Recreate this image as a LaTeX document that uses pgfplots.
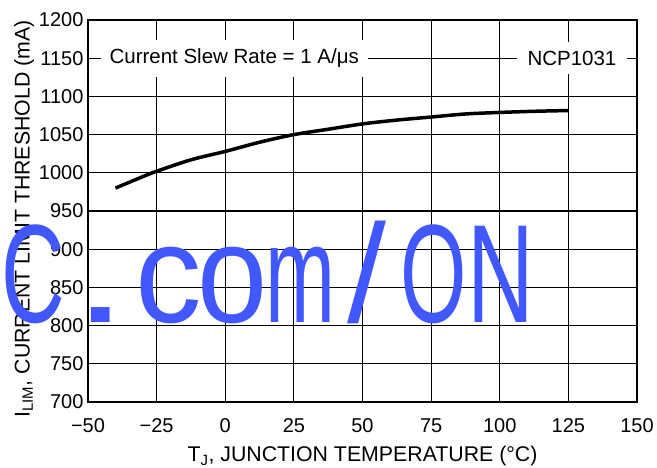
\documentclass[border=0pt]{standalone}
\usepackage{pgfplots}
\pgfplotsset{compat=1.18}
\usepackage{fontspec}
\setmainfont{Liberation Sans}
\definecolor{wmblue}{RGB}{66,88,255}

\begin{document}
\begin{tikzpicture}
\begin{axis}[
  at={(88pt,66pt)}, anchor=south west,
  scale only axis, width=549pt, height=382pt,
  xmin=-50, xmax=150, ymin=700, ymax=1200,
  xtick={-50,-25,...,150},
  xticklabels={−50,−25,0,25,50,75,100,125,150},
  ytick={700,750,...,1200},
  major tick length=0pt,
  grid=major,
  grid style={black, line width=1.1pt},
  axis line style={black, line width=2.4pt},
  font=\fontsize{20}{24}\selectfont,
  /pgf/number format/assume math mode=true,
  yticklabel style={/pgf/number format/1000 sep={}, xshift=-1pt},
  xticklabel style={yshift=-13pt},
  xlabel={T\textsubscript{J}, JUNCTION TEMPERATURE (°C)},
  ylabel={I\textsubscript{LIM}, CURRENT LIMIT THRESHOLD (mA)},
  label style={font=\fontsize{21.3}{25}\selectfont},
  xlabel style={yshift=-7pt},
  ylabel style={yshift=-2pt, xshift=-8pt},
  clip=false,
]
\addplot[black, line width=3.5pt, smooth] coordinates {
(-40,980) (-30,995) (-25,1002) (-12.5,1017) (0,1028) (12.5,1040)
(25,1050) (37.5,1057) (50,1064) (62.5,1069) (75,1073) (87.5,1077)
(100,1079) (112.5,1080.5) (125,1081.5)
};
\node[fill=white, anchor=west, inner xsep=9pt, inner ysep=9pt,
      font=\fontsize{20.5}{24}\selectfont] at (axis cs:-45.5,1150) {Current Slew Rate = 1 A/μs};
\node[fill=white, inner xsep=11pt, inner ysep=9pt,
      font=\fontsize{20.5}{24}\selectfont] at (axis cs:126.3,1150) {NCP1031};
\end{axis}
% watermark, each glyph squeezed to its cell
\begin{scope}[every node/.style={anchor=base, inner sep=0pt, text=wmblue,
      font=\fontsize{140}{150}\selectfont}]
\node[xscale=0.63] at (33.5pt,145pt) {C};
\node[xscale=1.4]  at (101pt,145pt) {.};
\node[xscale=0.95] at (168.5pt,145pt) {c};
\node[xscale=0.9]  at (232.5pt,145pt) {o};
\node[xscale=0.6]  at (300.5pt,145pt) {m};
\node[xscale=1.0]  at (367pt,145pt) {/};
\node[xscale=0.61] at (434pt,145pt) {O};
\node[xscale=0.66] at (500.5pt,145pt) {N};
\end{scope}
\pgfresetboundingbox
\path (0,0) rectangle (657pt,468pt);
\end{tikzpicture}
\end{document}
